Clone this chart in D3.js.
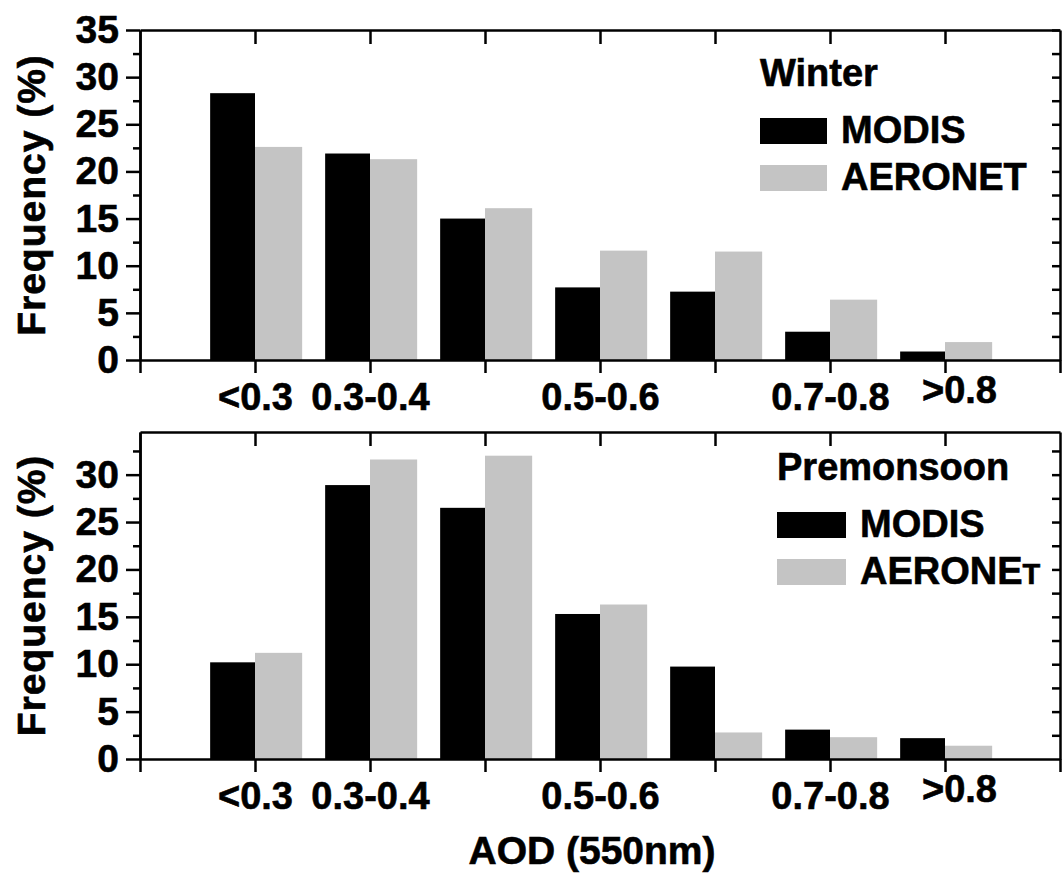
<!DOCTYPE html>
<html>
<head>
<meta charset="utf-8">
<script src="https://cdn.jsdelivr.net/npm/d3@7"></script>
<style>
  html, body { margin: 0; padding: 0; background: #fff; }
  svg text { font-family: 'Liberation Sans', Arial, sans-serif; font-weight: bold; fill: #000;
             stroke: #000; stroke-width: 0.6px; }
</style>
</head>
<body>
<div id="chart"></div>
<script>
// AOD bins (x categories) and the labels actually printed under the ticks
const categories = ['<0.3', '0.3-0.4', '0.4-0.5', '0.5-0.6', '0.6-0.7', '0.7-0.8', '>0.8']
const tickLabels = ['', '<0.3', '0.3-0.4', '', '0.5-0.6', '', '0.7-0.8', '>0.8', '']

// frequency (%) per bin
const winterModis   = [28.3, 21.9, 15.0, 7.7, 7.25, 3.0, 0.9]
const winterAeronet = [22.6, 21.3, 16.1, 11.6, 11.5, 6.4, 1.9]
const premonModis   = [10.2, 28.9, 26.5, 15.3, 9.75, 3.1, 2.2]
const premonAeronet = [11.2, 31.6, 32.0, 16.3, 2.8, 2.3, 1.4]

const yTicksTop = [0, 5, 10, 15, 20, 25, 30, 35]
const yTicksBottom = [0, 5, 10, 15, 20, 25, 30]

const W = 1062, H = 877
const LEFT = 140, RIGHT = 1060
const BLACK = '#000', GREY = '#c4c4c4'

const svg = d3.select('#chart').append('svg').attr('width', W).attr('height', H)
svg.append('rect').attr('width', W).attr('height', H).attr('fill', '#fff')

const x = d3.scaleLinear().domain([0, 8]).range([LEFT, RIGHT])
const step = x(1) - x(0)

function panel({ top, bottom, yMax, yTicks, modis, aeronet, title, smallT }) {
  const y = d3.scaleLinear().domain([0, yMax]).range([bottom, top])
  const g = svg.append('g')
  const minor = d3.range(2.5, yMax, 5)
  const all = d3.range(0, yMax + 0.01, 2.5)

  // bars
  g.selectAll('rect.modis').data(modis).join('rect').attr('class', 'modis')
    .attr('x', (d, i) => x(i + 1) - 0.39 * step).attr('width', 0.39 * step)
    .attr('y', d => y(d)).attr('height', d => y(0) - y(d)).attr('fill', BLACK)
  g.selectAll('rect.aeronet').data(aeronet).join('rect').attr('class', 'aeronet')
    .attr('x', (d, i) => x(i + 1)).attr('width', 0.41 * step)
    .attr('y', d => y(d)).attr('height', d => y(0) - y(d)).attr('fill', GREY)

  // left axis: labelled majors outward, minors shorter
  const gl = g.append('g').attr('transform', `translate(${LEFT},0)`)
    .call(d3.axisLeft(y).tickValues(yTicks).tickSize(14).tickSizeOuter(0).tickPadding(7))
  gl.selectAll('text').style('font-size', '39px')
  g.append('g').attr('transform', `translate(${LEFT},0)`)
    .call(d3.axisLeft(y).tickValues(minor).tickSize(7).tickSizeOuter(0).tickFormat(''))

  // right axis: ticks inward
  g.append('g').attr('transform', `translate(${RIGHT},0)`)
    .call(d3.axisRight(y).tickValues(all.filter(v => v > 0)).tickSize(-8).tickSizeOuter(0).tickFormat(''))

  // top axis: ticks inward at bin centres
  g.append('g').attr('transform', `translate(0,${top})`)
    .call(d3.axisTop(x).tickValues(d3.range(1, 8)).tickSize(-14).tickSizeOuter(0).tickFormat(''))

  // bottom axis
  const gb = g.append('g').attr('transform', `translate(0,${bottom})`)
    .call(d3.axisBottom(x).tickValues(d3.range(0, 9)).tickSize(13).tickSizeOuter(0)
      .tickPadding(10).tickFormat(i => tickLabels[i]))
  gb.selectAll('text').style('font-size', '38px')
  gb.selectAll('.tick').filter(i => i === 7).select('text').attr('dx', 14).attr('y', 16)

  svg.selectAll('.domain, .tick line').attr('stroke', '#000').attr('stroke-width', 2.5)

  // y title
  g.append('text').attr('transform', `translate(45,${(top + bottom) / 2}) rotate(-90)`)
    .attr('text-anchor', 'middle').style('font-size', '39px').style('letter-spacing', '1px')
    .text('Frequency (%)')

  // legend
  const lg = g.append('g').attr('transform', `translate(${title.x},${top})`)
  lg.append('text').attr('x', 0).attr('y', title.dy).style('font-size', '38px').text(title.text)
  const items = [['MODIS', BLACK], ['AERONET', GREY]]
  items.forEach(([name, col], k) => {
    const cy = title.dy + 44 + k * 47
    lg.append('rect').attr('x', 0).attr('y', cy - 12).attr('width', title.box)
      .attr('height', 26).attr('fill', col)
    const t = lg.append('text').attr('x', title.box + 14).attr('y', cy + 13).style('font-size', '38px')
    if (smallT && name === 'AERONET') {
      t.text('AERONE')
      t.append('tspan').style('font-size', '29px').text('T')
    } else {
      t.text(name)
    }
  })
}

panel({
  top: 30, bottom: 360, yMax: 35, yTicks: yTicksTop,
  modis: winterModis, aeronet: winterAeronet,
  title: { text: 'Winter', x: 760, dy: 56, box: 67 }
})

panel({
  top: 432, bottom: 759, yMax: 34.5, yTicks: yTicksBottom,
  modis: premonModis, aeronet: premonAeronet,
  title: { text: 'Premonsoon', x: 777, dy: 48, box: 69 }, smallT: true
})

// x title
svg.append('text').attr('x', 592).attr('y', 864).attr('text-anchor', 'middle')
  .style('font-size', '39px').text('AOD (550nm)')
</script>
</body>
</html>
